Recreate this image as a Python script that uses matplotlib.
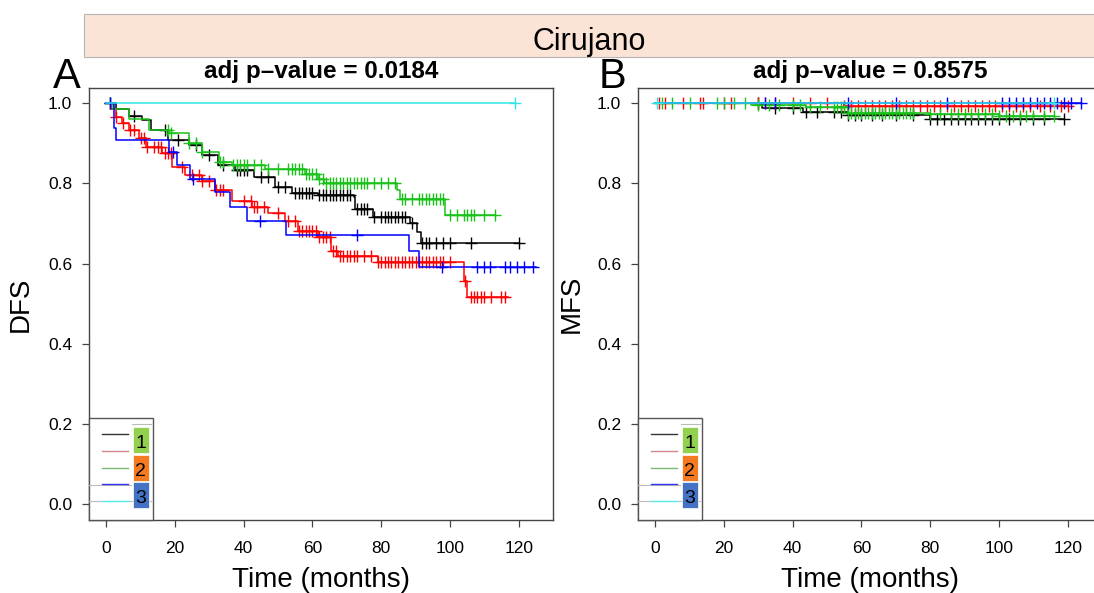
import numpy as np
import matplotlib
matplotlib.use("Agg")
import matplotlib.pyplot as plt
from matplotlib.patches import Rectangle
from matplotlib.lines import Line2D

plt.rcParams['font.family'] = ['Liberation Sans', 'DejaVu Sans']

# ---------------- datos ----------------
header = "Cirujano"
panel_labels = ["A", "B"]
pvalues = ["adj p\u2013value = 0.0184", "adj p\u2013value = 0.8575"]
ylabels = ["DFS", "MFS"]
xlabel = "Time (months)"
group_names = ["1", "2", "3"]

# Panel A (DFS): tiempos de escalon y supervivencia tras el escalon
a_black_t = [0, 3, 6.5, 10.5, 13, 18, 24, 28, 32.5, 37.5, 43, 49, 54, 61.5, 72, 72.5, 77.5, 88.5, 90.5, 91.5]
a_black_s = [1.0, 0.985, 0.967, 0.957, 0.933, 0.908, 0.895, 0.87, 0.845, 0.833, 0.816, 0.79, 0.775, 0.77, 0.766, 0.737, 0.716, 0.70, 0.678, 0.65]
a_black_end = 120
a_black_cens = [1, 8, 17, 21, 26, 30, 34, 38, 39, 40, 41, 45, 47, 50, 52, 55, 56, 57, 58, 59, 60, 62, 63, 64,
                65, 66, 67, 68, 69, 70, 71, 73, 74, 75, 76, 78, 80, 81, 82, 83, 84, 85, 86, 87, 89, 92, 93,
                94, 96, 98, 100, 106, 120]

a_red_t = [0, 1.5, 2.8, 4.5, 6.6, 9.5, 11.5, 16.2, 19.1, 23, 27.8, 31.7, 36.5, 42.3, 47.1, 52, 55.8, 61.6, 65.4, 67.4, 79, 104, 105]
a_red_s = [1.0, 0.985, 0.966, 0.95, 0.933, 0.912, 0.891, 0.875, 0.841, 0.82, 0.807, 0.783, 0.757, 0.741, 0.725, 0.707, 0.682, 0.666, 0.632, 0.62, 0.603, 0.557, 0.516]
a_red_end = 117
a_red_cens = [3, 5, 7, 8, 10, 11, 12, 14, 15, 16, 17, 18, 19, 22, 25, 27, 28, 30, 32, 33, 34, 40, 42, 43, 44,
              46, 50, 53, 55, 56, 57, 58, 59, 60, 61, 62, 63, 64, 65, 66, 67, 68, 69, 70, 71, 72, 73, 75,
              77, 79, 80, 81, 82, 83, 84, 85, 86, 87, 88, 89, 90, 91, 92, 93, 94, 95, 96, 97, 98, 100,
              104.5, 106, 107, 108, 109, 110, 112, 115, 116]

a_green_t = [0, 2, 6.7, 12.4, 18.2, 24, 27.8, 32.7, 36.5, 46.2, 57.7, 61.6, 63.5, 84.7, 85.5, 98.6]
a_green_s = [1.0, 0.985, 0.96, 0.933, 0.925, 0.9, 0.879, 0.854, 0.845, 0.837, 0.824, 0.812, 0.80, 0.783, 0.762, 0.72]
a_green_end = 113
a_green_cens = [1, 18, 19, 24, 26, 28, 33, 34, 37, 38, 39, 40, 41, 43, 45, 47, 50, 53, 54, 55, 56, 57, 58,
                59, 60, 61, 62, 63, 64, 65, 66, 67, 68, 69, 70, 71, 72, 73, 74, 75, 76, 78, 80, 82, 84,
                86, 87, 89, 91, 92, 93, 94, 95, 96, 97, 98, 100, 102, 104, 105, 106, 107, 110, 113]

a_blue_t = [0, 2.3, 3, 18.2, 20.5, 24.5, 31.7, 36, 40.9, 52.4, 88.1, 91]
a_blue_s = [1.0, 0.937, 0.908, 0.879, 0.845, 0.81, 0.778, 0.741, 0.707, 0.672, 0.632, 0.592]
a_blue_end = 125
a_blue_cens = [1, 19.5, 25.4, 44.7, 73, 97.7, 107.9, 109.8, 111.7, 116, 117.4, 119.4, 121.7, 124.3]

a_cyan_t = [0]
a_cyan_s = [1.0]
a_cyan_end = 119
a_cyan_cens = [119]

# Panel B (MFS)
b_black_t = [0, 31, 43, 56, 80]
b_black_s = [1.0, 0.988, 0.978, 0.971, 0.960]
b_black_end = 119
b_black_cens = [30, 35, 40, 44, 47, 52, 54, 56, 58, 60, 63, 66, 70, 75, 80, 82, 84, 86, 88, 90, 92, 94, 96,
                98, 100, 103, 106, 110, 113, 119]

b_red_t = [0, 55]
b_red_s = [1.0, 0.994]
b_red_end = 120
b_red_cens = [1, 3, 8, 13, 14, 20, 22, 30, 32, 35, 40, 45, 50, 55, 57, 59, 61, 63, 65, 67, 69, 71, 73, 75,
              77, 79, 81, 83, 85, 87, 89, 91, 93, 95, 97, 99, 101, 103, 105, 107, 109, 112, 115, 118, 120]

b_green_t = [0, 28, 44, 56, 80, 100]
b_green_s = [1.0, 0.995, 0.99, 0.976, 0.972, 0.968]
b_green_end = 116
b_green_cens = [2, 5, 10, 18, 20, 23, 26, 30, 33, 36, 40, 42, 45, 48, 52, 53, 54, 55, 56, 57, 58, 59, 60,
                61, 62, 63, 64, 65, 66, 67, 68, 69, 70, 71, 72, 73, 74, 75, 80, 83, 86, 88, 90, 92, 94,
                96, 98, 100, 102, 104, 106, 108, 110, 113, 116]

b_blue_t = [0]
b_blue_s = [1.0]
b_blue_end = 124
b_blue_cens = [32, 35, 56, 70, 85, 101, 103, 105, 107, 109, 111, 113, 115, 117, 119, 121, 124]

b_cyan_t = [0]
b_cyan_s = [1.0]
b_cyan_end = 116
b_cyan_cens = [0.6, 116]

line_colors = ['black', '#ff0000', '#19c219', '#0000ff', '#33e6e6']
legend_line_colors = ['#333333', '#d08888', '#77bb77', '#3333ee', '#55eeee']
box_colors = ['#92d050', '#f47b20', '#4472c4']

panel_a = [(a_black_t, a_black_s, a_black_end, a_black_cens),
           (a_red_t, a_red_s, a_red_end, a_red_cens),
           (a_green_t, a_green_s, a_green_end, a_green_cens),
           (a_blue_t, a_blue_s, a_blue_end, a_blue_cens),
           (a_cyan_t, a_cyan_s, a_cyan_end, a_cyan_cens)]
panel_b = [(b_black_t, b_black_s, b_black_end, b_black_cens),
           (b_red_t, b_red_s, b_red_end, b_red_cens),
           (b_green_t, b_green_s, b_green_end, b_green_cens),
           (b_blue_t, b_blue_s, b_blue_end, b_blue_cens),
           (b_cyan_t, b_cyan_s, b_cyan_end, b_cyan_cens)]

W, H = 1094, 593


def km_curve(ax, t, s, end, cens, color):
    t = np.asarray(t, float)
    s = np.asarray(s, float)
    tt = np.append(t, end)
    ss = np.append(s, s[-1])
    ax.step(tt, ss, where='post', color=color, lw=1.1)
    c = np.asarray(cens, float)
    idx = np.searchsorted(t, c, side='right') - 1
    ax.plot(c, s[idx], ls='none', marker='+', ms=9, mew=1.0, color=color)


def draw_legend(ax):
    # caja de leyenda en pixeles relativos al eje (izq, abajo)
    tr = ax.transAxes
    fx = lambda px: px / 464.0
    fy = lambda px: px / 432.0
    ax.add_patch(Rectangle((0, 0), fx(64), fy(102), transform=tr, facecolor='white',
                           edgecolor='#555555', lw=1.0, zorder=5, clip_on=False))
    # lineas grises finas
    for (x0, x1, y) in [(43, 62, 96), (0, 42, 35), (0, 62, 19)]:
        ax.add_line(Line2D([fx(x0), fx(x1)], [fy(y), fy(y)], transform=tr, color='#bbbbbb',
                           lw=0.8, zorder=6))
    ys = [86, 69, 52, 36, 19.5]
    for y, col in zip(ys, legend_line_colors):
        ax.add_line(Line2D([fx(12.5), fx(39)], [fy(y), fy(y)], transform=tr, color=col,
                           lw=1.0, zorder=7))
    for k, (name, col) in enumerate(zip(group_names, box_colors)):
        y0 = 67 - k * 27.5
        ax.add_patch(Rectangle((fx(43.5), fy(y0)), fx(16.5), fy(26), transform=tr,
                               facecolor=col, edgecolor='white', lw=0.5, zorder=7))
        ax.text(fx(51.8), fy(y0 + 1), name, transform=tr, ha='center', va='bottom',
                fontsize=14, color='black', zorder=8)


fig = plt.figure(figsize=(W / 100, H / 100), dpi=100)

# franja de cabecera
fig.patches.append(Rectangle((84 / W, 1 - 57 / H), 1.1, 43 / H, transform=fig.transFigure,
                             facecolor='#fbe4d6', edgecolor='#b5b5b5', lw=0.8, zorder=0))
fig.text(589 / W, 1 - 42 / H, header, ha='center', va='center', fontsize=22)

lefts = [89, 638]
letter_x = [67, 613]
ylab_x = [34, 585]
for k, data in enumerate([panel_a, panel_b]):
    ax = fig.add_axes([lefts[k] / W, 1 - 520 / H, 464 / W, 432 / H])
    for (t, s, end, cens), col in zip(data, line_colors):
        km_curve(ax, t, s, end, cens, col)
    ax.set_xlim(-5, 130)
    ax.set_ylim(-0.04, 1.038)
    ax.set_xticks(np.arange(0, 121, 20))
    ax.set_yticks(np.arange(0, 1.01, 0.2))
    ax.set_yticklabels([f"{v:.1f}" for v in np.arange(0, 1.01, 0.2)])
    ax.tick_params(direction='out', length=5, width=0.9, labelsize=12.5, color='#444444')
    ax.tick_params(axis='x', pad=10)
    ax.tick_params(axis='y', pad=7)
    for sp in ax.spines.values():
        sp.set_color('#444444')
        sp.set_linewidth(1.0)
    ax.set_xlabel(xlabel, fontsize=20, labelpad=8)
    ax.set_ylabel(ylabels[k], fontsize=20)
    ax.yaxis.set_label_coords((ylab_x[k] - lefts[k]) / 464, (520 - 304) / 432)
    ax.set_title(pvalues[k], fontsize=17.5, fontweight='bold', pad=7)
    draw_legend(ax)
    fig.text(letter_x[k] / W, 1 - 88 / H, panel_labels[k], ha='center', va='baseline', fontsize=30)

fig.savefig("out.png", dpi=100)
